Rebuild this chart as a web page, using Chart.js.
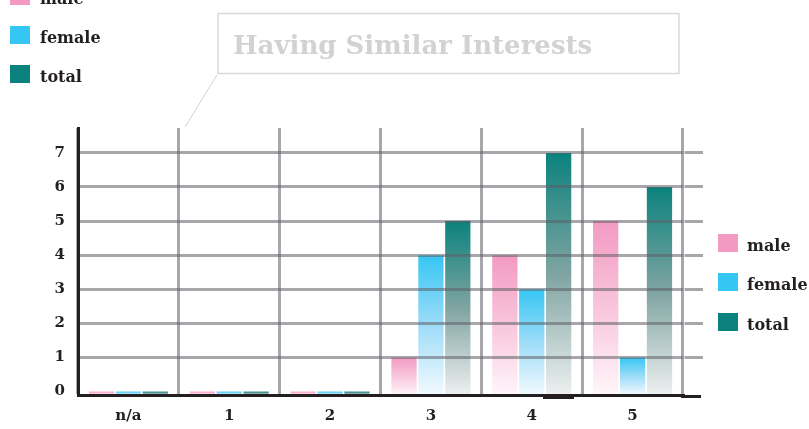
<!DOCTYPE html>
<html>
<head>
<meta charset="utf-8">
<script src="https://cdn.jsdelivr.net/npm/chart.js@4.4.0/dist/chart.umd.min.js"></script>
<style>
html, body { margin: 0; padding: 0; background: #fff; }
#wrap { position: relative; width: 809px; height: 429px; }
</style>
</head>
<body>
<div id="wrap"><canvas id="chart" width="809" height="429"></canvas></div>
<script>
const categories = ['n/a', '1', '2', '3', '4', '5'];
const male = [0, 0, 0, 1, 4, 5];
const female = [0, 0, 0, 4, 3, 1];
const total = [0, 0, 0, 5, 7, 6];
const yTicks = [0, 1, 2, 3, 4, 5, 6, 7];
const seriesNames = ['male', 'female', 'total'];
const seriesColors = ['#f39ac3', '#36c6f4', '#0b827d'];
const midColors = ['#f8c6dc', '#9ddcf8', '#7fa4a2'];
const fadeColors = ['#fff6fa', '#f3faff', '#eef0f0'];
const titleText = 'Having Similar Interests';

const FONT = '"DejaVu Serif", serif';
const INK = '#231f20';
const GRID = 'rgba(95, 95, 102, 0.55)';
const BASE = -0.1;

function alignPx(p, w) {
    return Math.round(p - w / 2) + w / 2;
}

function barFill(i) {
    return (c) => {
        const y = c.chart.scales.y;
        if (!y || c.type !== 'data') return seriesColors[i];
        const top = y.getPixelForValue(c.raw);
        const bottom = y.getPixelForValue(BASE);
        if (!isFinite(top) || !isFinite(bottom) || bottom - top < 1) return seriesColors[i];
        const g = c.chart.ctx.createLinearGradient(0, top, 0, bottom);
        g.addColorStop(0, seriesColors[i]);
        g.addColorStop(0.5, midColors[i]);
        g.addColorStop(1, fadeColors[i]);
        return g;
    };
}

// legends, title box, grid stubs past the last column
const decor = {
    id: 'decor',
    afterDraw(chart) {
        const { ctx, chartArea: a, scales: { y } } = chart;
        ctx.save();

        ctx.strokeStyle = GRID;
        ctx.lineWidth = 3;
        yTicks.forEach(v => {
            if (v === 0) return;
            const py = alignPx(y.getPixelForValue(v), 3);
            ctx.beginPath();
            ctx.moveTo(a.right + 1.5, py);
            ctx.lineTo(a.right + 20, py);
            ctx.stroke();
        });
        ctx.strokeStyle = INK;
        const by = alignPx(a.bottom + 1, 3);
        ctx.beginPath();
        ctx.moveTo(a.right - 2, by);
        ctx.lineTo(a.right + 18, by);
        ctx.stroke();

        // dark marker under the tallest bar
        const el = chart.getDatasetMeta(2).data[4];
        ctx.fillStyle = INK;
        ctx.fillRect(Math.round(el.x - el.width / 2 - 3), a.bottom - 1, Math.round(el.width + 6), 5);

        // title box + pointer
        ctx.strokeStyle = '#d9d9d9';
        ctx.lineWidth = 1.5;
        ctx.strokeRect(218, 13.5, 461, 60);
        ctx.strokeStyle = '#d2d2d2';
        ctx.lineWidth = 1;
        ctx.beginPath();
        ctx.moveTo(217, 75);
        ctx.lineTo(185, 127);
        ctx.stroke();
        ctx.fillStyle = '#d2d2d2';
        ctx.font = 'bold 26px ' + FONT;
        ctx.textBaseline = 'alphabetic';
        ctx.fillText(titleText, 233, 54);

        // legends
        ctx.font = 'bold 16px ' + FONT;
        const left = [-13, 26, 65];
        const right = [234, 273, 313];
        seriesNames.forEach((name, i) => {
            ctx.fillStyle = seriesColors[i];
            ctx.fillRect(10, left[i], 20, 18);
            ctx.fillRect(718, right[i], 20, 18);
            ctx.fillStyle = INK;
            ctx.fillText(name, 40, left[i] + 16.5);
            ctx.fillText(name, 747, right[i] + 16.5);
        });
        ctx.restore();
    }
};

const series = [male, female, total];

const ctx = document.getElementById('chart');
const chart = new Chart(ctx, {
    type: 'bar',
    data: {
        labels: categories,
        datasets: series.map((d, i) => ({
            label: seriesNames[i],
            data: d,
            base: BASE,
            backgroundColor: barFill(i),
            categoryPercentage: 0.8,
            barPercentage: 0.94
        }))
    },
    options: {
        responsive: false,
        animation: false,
        events: [],
        layout: { padding: { top: 128, right: 126, left: 0, bottom: 0 } },
        plugins: { legend: { display: false }, tooltip: { enabled: false } },
        scales: {
            x: {
                grid: { color: GRID, lineWidth: 3, offset: true, drawTicks: false, z: 1 },
                border: { color: INK, width: 3, z: 2 },
                ticks: { color: INK, font: { family: FONT, weight: 'bold', size: 15 }, padding: 12 },
                afterFit: s => { s.height = 34; }
            },
            y: {
                min: BASE,
                max: 7.73,
                afterBuildTicks: s => { s.ticks = yTicks.map(v => ({ value: v })); },
                grid: {
                    color: c => (c.tick && c.tick.value === 0) ? 'rgba(0,0,0,0)' : GRID,
                    lineWidth: 3, drawTicks: false, z: 1
                },
                border: { color: INK, width: 3, z: 2 },
                ticks: { color: INK, font: { family: FONT, weight: 'bold', size: 15 }, padding: 13 },
                afterFit: s => { s.width = 78; }
            }
        }
    },
    plugins: [decor]
});
</script>
</body>
</html>
